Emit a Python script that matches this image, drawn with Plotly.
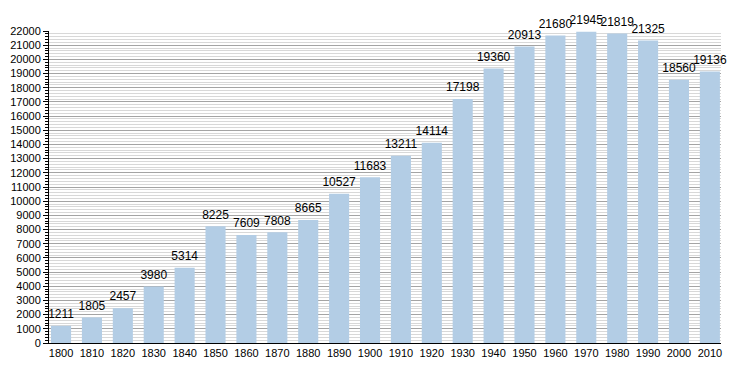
import plotly.graph_objects as go

years = [1800, 1810, 1820, 1830, 1840, 1850, 1860, 1870, 1880, 1890, 1900,
         1910, 1920, 1930, 1940, 1950, 1960, 1970, 1980, 1990, 2000, 2010]
population = [1211, 1805, 2457, 3980, 5314, 8225, 7609, 7808, 8665, 10527, 11683,
              13211, 14114, 17198, 19360, 20913, 21680, 21945, 21819, 21325, 18560, 19136]
ytick_vals = list(range(0, 22001, 1000))

fig = go.Figure()
fig.add_trace(go.Bar(
    x=years, y=population, width=6.5,
    marker=dict(color="#b3cde5", line=dict(width=0)),
    hoverinfo="x+y",
))
fig.add_trace(go.Scatter(
    x=years, y=population, mode="markers+text",
    marker=dict(size=6, opacity=0),
    text=[str(v) for v in population], textposition="top center",
    textfont=dict(size=12, color="black", family="Liberation Sans, Arial"),
    cliponaxis=False, hoverinfo="skip",
))
fig.update_layout(
    width=742, height=365,
    margin=dict(l=41, r=29, t=23, b=30),
    paper_bgcolor="white", plot_bgcolor="white",
    showlegend=False,
    font=dict(family="Liberation Sans, Arial", size=11, color="black"),
    xaxis=dict(range=[1796.1, 2013.6], tickvals=years, ticktext=[str(y) for y in years],
               showgrid=False, showline=True, linecolor="black", linewidth=1,
               ticks="", zeroline=False, fixedrange=True, automargin=False),
    yaxis=dict(range=[0, 22000], tickvals=ytick_vals, ticktext=[str(v) for v in ytick_vals],
               showgrid=True, gridcolor="#a4a4a4",
               gridwidth=1, showline=True, linecolor="black", linewidth=1,
               ticks="outside", ticklen=5, tickcolor="black", zeroline=False,
               minor=dict(dtick=200, showgrid=True, gridcolor="#d8d8d8", ticks="outside",
                          ticklen=3, tickcolor="black"),
               layer="below traces", automargin=False, fixedrange=True),
)
fig.write_html("out.html")
